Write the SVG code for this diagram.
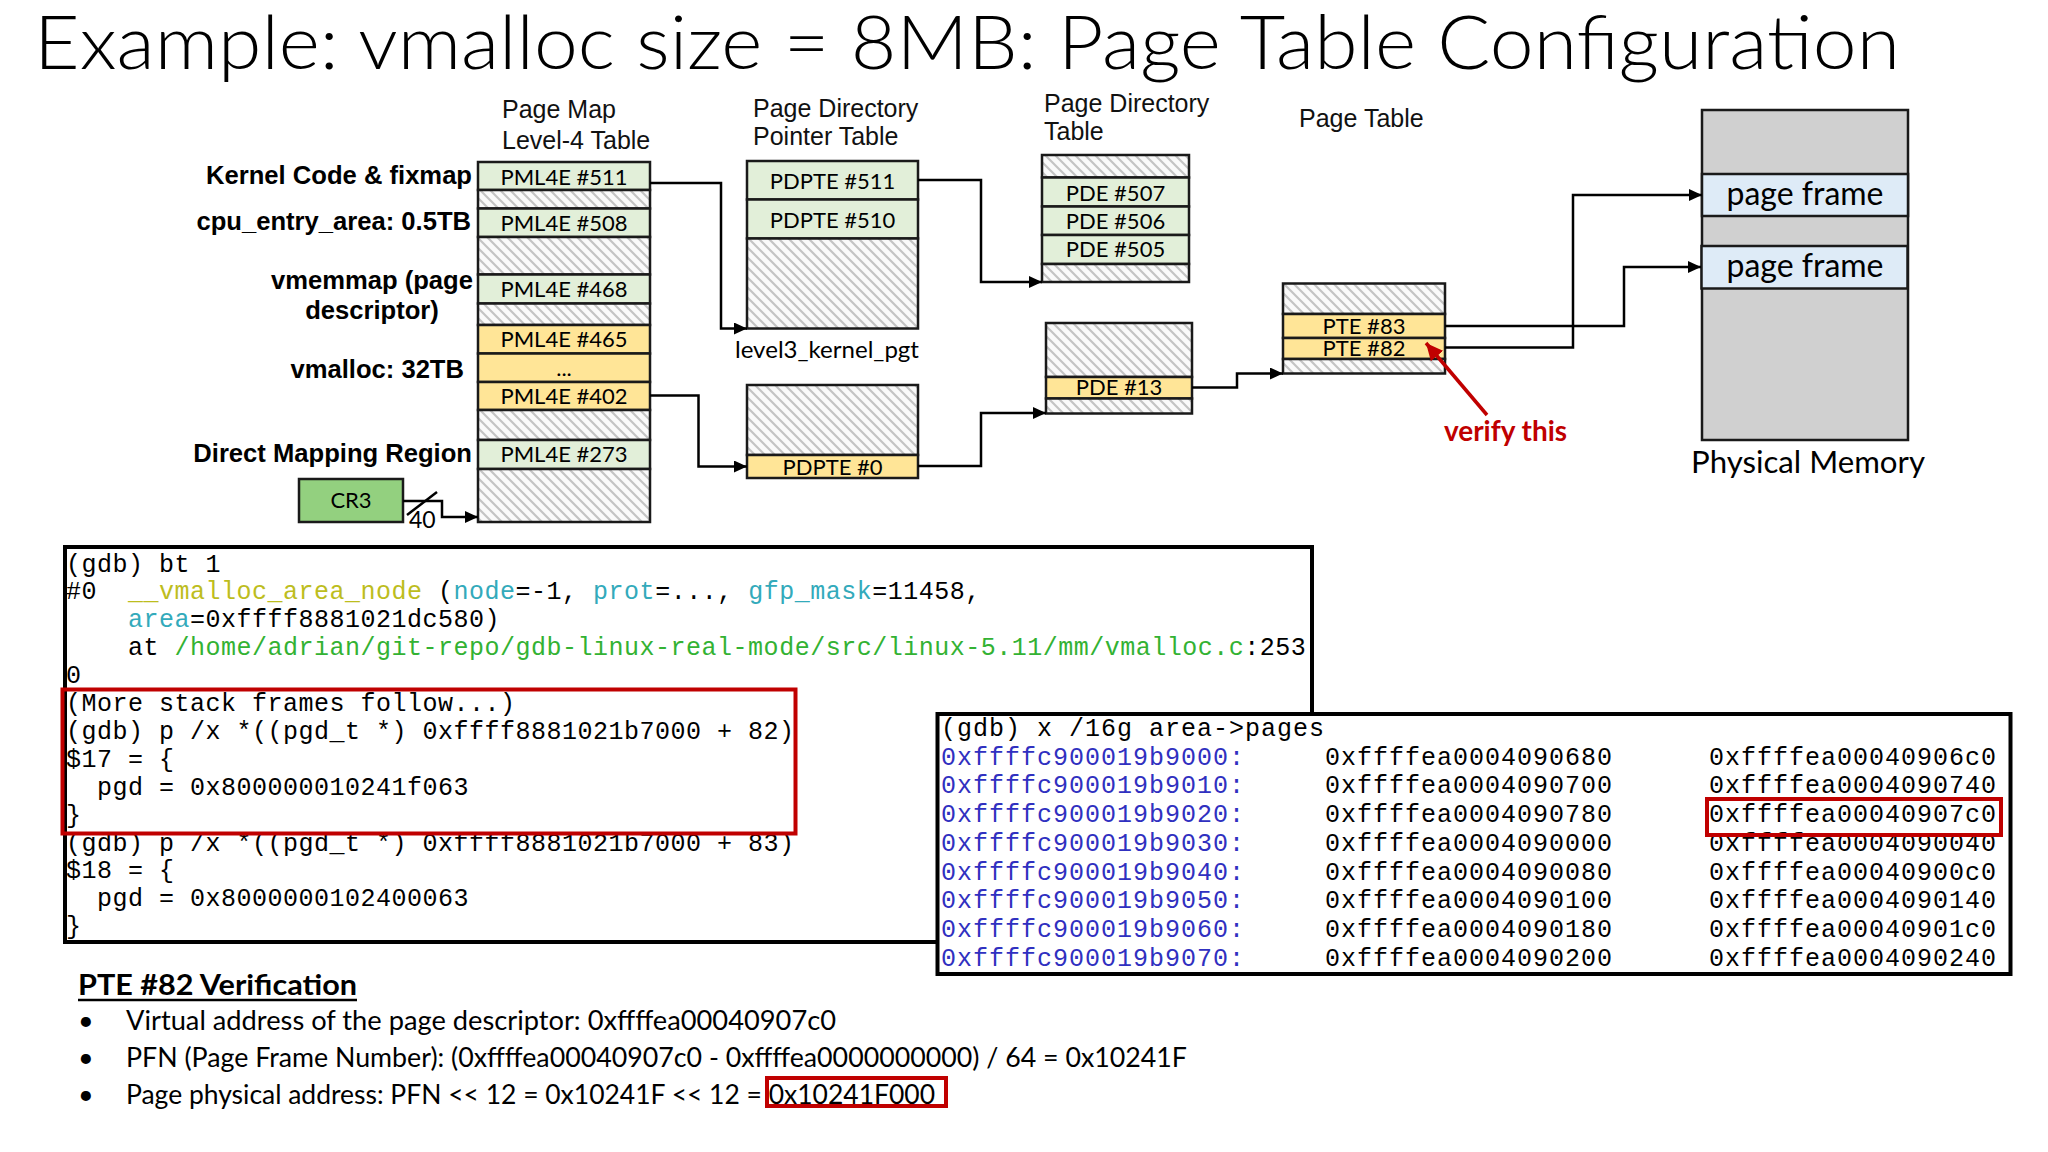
<svg xmlns="http://www.w3.org/2000/svg" width="2048" height="1152" viewBox="0 0 2048 1152">
<style>
.hdr{font-family:"Liberation Sans",Arial,sans-serif;font-size:25px;fill:#111}
.lbl{font-family:"Liberation Sans",Arial,sans-serif;font-weight:bold;font-size:25.6px;fill:#000}
.ent{font-family:Lato,"Open Sans",sans-serif;font-size:22px;text-anchor:middle;fill:#000}
.tb{stroke:#1a1a1a;stroke-width:2.5}
.g{fill:#e2efd9}
.y{fill:#ffe597}
.h{fill:url(#hatch)}
.conn{fill:none;stroke:#000;stroke-width:2.5;marker-end:url(#arr)}
.code{font-family:"Liberation Mono","Courier New",monospace;font-size:25px;fill:#000;white-space:pre}
.c1{letter-spacing:0.5px}
.c2{letter-spacing:1px}
.cy{fill:#bdbd1e}
.cc{fill:#33aabb}
.cg{fill:#33b233}
.cb{fill:#3030c0}
.body{font-family:Lato,"Open Sans",sans-serif;font-size:27px;fill:#000}
.redbox{fill:none;stroke:#c00000;stroke-width:4}
</style>
<defs>
<pattern id="hatch" patternUnits="userSpaceOnUse" width="10" height="10">
<rect width="10" height="10" fill="#fafafa"/>
<path d="M-2,-2 L12,12 M-2,8 L2,12 M8,-2 L12,2" stroke="#c4c4c4" stroke-width="2.2"/>
</pattern>
<marker id="arr" markerUnits="userSpaceOnUse" markerWidth="14" markerHeight="12" refX="13" refY="6" orient="auto">
<path d="M0,0 L13,6 L0,12 z" fill="#000"/>
</marker>
<marker id="rarr" markerUnits="userSpaceOnUse" markerWidth="18" markerHeight="16" refX="17" refY="8" orient="auto">
<path d="M0,0 L17,8 L0,16 z" fill="#c00000"/>
</marker>
</defs>
<rect width="2048" height="1152" fill="#fff"/>

<text x="34" y="69" font-family="Lato,'Open Sans',sans-serif" font-weight="300" font-size="74" fill="#000" textLength="1866" lengthAdjust="spacingAndGlyphs">Example: vmalloc size = 8MB: Page Table Configuration</text>

<!-- region labels -->
<g id="labels">
<text class="lbl" x="472" y="184" text-anchor="end">Kernel Code &amp; fixmap</text>
<text class="lbl" x="471" y="230" text-anchor="end">cpu_entry_area: 0.5TB</text>
<text class="lbl" x="372" y="289" text-anchor="middle">vmemmap (page</text>
<text class="lbl" x="372" y="319" text-anchor="middle">descriptor)</text>
<text class="lbl" x="464" y="378" text-anchor="end">vmalloc: 32TB</text>
<text class="lbl" x="472" y="462" text-anchor="end">Direct Mapping Region</text>
</g>

<!-- headers -->
<g id="headers">
<text class="hdr" x="502" y="118">Page Map</text>
<text class="hdr" x="502" y="149">Level-4 Table</text>
<text class="hdr" x="753" y="117">Page Directory</text>
<text class="hdr" x="753" y="145">Pointer Table</text>
<text class="hdr" x="1044" y="112">Page Directory</text>
<text class="hdr" x="1044" y="140">Table</text>
<text class="hdr" x="1299" y="127">Page Table</text>
</g>

<g id="cr3">
<rect x="299" y="479" width="104" height="43" fill="#93d07f" class="tb"/>
<text class="ent" x="351" y="508" font-size="23">CR3</text>
</g>

<g id="pml4">
<rect class="tb g" x="478" y="162" width="172" height="28"/>
<rect class="tb h" x="478" y="190" width="172" height="18.5"/>
<rect class="tb g" x="478" y="208.5" width="172" height="28.5"/>
<rect class="tb h" x="478" y="237" width="172" height="37.5"/>
<rect class="tb g" x="478" y="274.5" width="172" height="29"/>
<rect class="tb h" x="478" y="303.5" width="172" height="21.5"/>
<rect class="tb y" x="478" y="325" width="172" height="28.5"/>
<rect class="tb y" x="478" y="353.5" width="172" height="28.5"/>
<rect class="tb y" x="478" y="382" width="172" height="28"/>
<rect class="tb h" x="478" y="410" width="172" height="30"/>
<rect class="tb g" x="478" y="440" width="172" height="29"/>
<rect class="tb h" x="478" y="469" width="172" height="53"/>
<text class="ent" x="564" y="185">PML4E #511</text>
<text class="ent" x="564" y="231">PML4E #508</text>
<text class="ent" x="564" y="297">PML4E #468</text>
<text class="ent" x="564" y="347">PML4E #465</text>
<text class="ent" x="564" y="376">...</text>
<text class="ent" x="564" y="404">PML4E #402</text>
<text class="ent" x="564" y="462">PML4E #273</text>
</g>

<g id="pdpt-kernel">
<rect class="tb g" x="747" y="161" width="171" height="38.5"/>
<rect class="tb g" x="747" y="199.5" width="171" height="39"/>
<rect class="tb h" x="747" y="238.5" width="171" height="90"/>
<text class="ent" x="832.5" y="189">PDPTE #511</text>
<text class="ent" x="832.5" y="227.5">PDPTE #510</text>
<text x="735" y="358" font-family="Lato,'Open Sans',sans-serif" font-size="24" fill="#000" textLength="184" lengthAdjust="spacingAndGlyphs">level3_kernel_pgt</text>
</g>

<g id="pdpt-vmalloc">
<rect class="tb h" x="747" y="385" width="171" height="70"/>
<rect class="tb y" x="747" y="455" width="171" height="23"/>
<text class="ent" x="832.5" y="475">PDPTE #0</text>
</g>

<g id="pd-kernel">
<rect class="tb h" x="1042" y="155" width="147" height="22.5"/>
<rect class="tb g" x="1042" y="177.5" width="147" height="29"/>
<rect class="tb g" x="1042" y="206.5" width="147" height="28.5"/>
<rect class="tb g" x="1042" y="235" width="147" height="29"/>
<rect class="tb h" x="1042" y="264" width="147" height="18"/>
<text class="ent" x="1115.5" y="201">PDE #507</text>
<text class="ent" x="1115.5" y="229">PDE #506</text>
<text class="ent" x="1115.5" y="257">PDE #505</text>
</g>

<g id="pd-vmalloc">
<rect class="tb h" x="1046" y="323" width="146" height="54"/>
<rect class="tb y" x="1046" y="377" width="146" height="21.5"/>
<rect class="tb h" x="1046" y="398.5" width="146" height="15"/>
<text class="ent" x="1119" y="395">PDE #13</text>
</g>

<g id="pt">
<rect class="tb h" x="1283" y="283.5" width="162" height="30.5"/>
<rect class="tb y" x="1283" y="314" width="162" height="24"/>
<rect class="tb y" x="1283" y="338" width="162" height="21"/>
<rect class="tb h" x="1283" y="359" width="162" height="14.5"/>
<text class="ent" x="1364" y="334" font-size="20.5">PTE #83</text>
<text class="ent" x="1364" y="356" font-size="20.5">PTE #82</text>
</g>

<g id="phys">
<rect class="tb" x="1702" y="110" width="206" height="330" fill="#d0d0d0"/>
<rect class="tb" x="1702" y="174" width="206" height="42" fill="#deebf7"/>
<rect class="tb" x="1701.5" y="246" width="206" height="42.5" fill="#deebf7"/>
<text x="1805" y="205" font-family="Lato,'Open Sans',sans-serif" font-size="32" text-anchor="middle" fill="#000">page frame</text>
<text x="1805" y="277" font-family="Lato,'Open Sans',sans-serif" font-size="32" text-anchor="middle" fill="#000">page frame</text>
<text x="1691" y="473" font-family="Lato,'Open Sans',sans-serif" font-size="31" fill="#000" textLength="234" lengthAdjust="spacingAndGlyphs">Physical Memory</text>
</g>

<g id="connectors">
<path class="conn" d="M403,501 H442 V517 H478"/>
<line x1="407" y1="515" x2="437" y2="492" stroke="#000" stroke-width="2.5"/>
<text x="409" y="528" font-family="Lato,'Open Sans',sans-serif" font-size="23" fill="#000">40</text>
<path class="conn" d="M650,183 H721 V328.5 H747"/>
<path class="conn" d="M650,395.5 H698.5 V466.5 H747"/>
<path class="conn" d="M918,180 H981 V282 H1042"/>
<path class="conn" d="M918,466 H981 V413 H1046"/>
<path class="conn" d="M1192,387.5 H1237 V373.5 H1283"/>
<path class="conn" d="M1445,326 H1624 V267 H1701"/>
<path class="conn" d="M1445,347.5 H1573 V195 H1702"/>
<line x1="1487" y1="415" x2="1426" y2="343" stroke="#c00000" stroke-width="3.5" marker-end="url(#rarr)"/>
<text x="1444" y="441" font-family="Lato,'Open Sans',sans-serif" font-weight="bold" font-size="29" fill="#c00000" textLength="123" lengthAdjust="spacingAndGlyphs">verify this</text>
</g>

<g id="gdb-bt">
<rect x="65" y="547" width="1247" height="395" fill="#fff" stroke="#000" stroke-width="4"/>
<text class="code c1" x="66" y="571.5" xml:space="preserve">(gdb) bt 1</text>
<text class="code c1" x="66" y="599.4" xml:space="preserve">#0  <tspan class="cy">__vmalloc_area_node</tspan> (<tspan class="cc">node</tspan>=-1, <tspan class="cc">prot</tspan>=..., <tspan class="cc">gfp_mask</tspan>=11458,</text>
<text class="code c1" x="66" y="627.3" xml:space="preserve">    <tspan class="cc">area</tspan>=0xffff8881021dc580)</text>
<text class="code c1" x="66" y="655.2" xml:space="preserve">    at <tspan class="cg">/home/adrian/git-repo/gdb-linux-real-mode/src/linux-5.11/mm/vmalloc.c</tspan>:253</text>
<text class="code c1" x="66" y="683.1" xml:space="preserve">0</text>
<text class="code c1" x="66" y="711" xml:space="preserve">(More stack frames follow...)</text>
<text class="code c1" x="66" y="738.9" xml:space="preserve">(gdb) p /x *((pgd_t *) 0xffff8881021b7000 + 82)</text>
<text class="code c1" x="66" y="766.8" xml:space="preserve">$17 = {</text>
<text class="code c1" x="66" y="794.7" xml:space="preserve">  pgd = 0x800000010241f063</text>
<text class="code c1" x="66" y="822.6" xml:space="preserve">}</text>
<text class="code c1" x="66" y="850.5" xml:space="preserve">(gdb) p /x *((pgd_t *) 0xffff8881021b7000 + 83)</text>
<text class="code c1" x="66" y="878.4" xml:space="preserve">$18 = {</text>
<text class="code c1" x="66" y="906.3" xml:space="preserve">  pgd = 0x8000000102400063</text>
<text class="code c1" x="66" y="934.2" xml:space="preserve">}</text>
<rect class="redbox" x="62.5" y="689.5" width="733" height="144"/>
</g>

<g id="gdb-pages">
<rect x="937.5" y="714" width="1073" height="260" fill="#fff" stroke="#000" stroke-width="4"/>
<text class="code c2" x="941" y="736" xml:space="preserve">(gdb) x /16g area-&gt;pages</text>
<g class="code c2">
<text class="cb" x="941" y="764.7">0xffffc900019b9000:</text>
<text x="1325" y="764.7">0xffffea0004090680</text>
<text x="1709" y="764.7">0xffffea00040906c0</text>
<text class="cb" x="941" y="793.4">0xffffc900019b9010:</text>
<text x="1325" y="793.4">0xffffea0004090700</text>
<text x="1709" y="793.4">0xffffea0004090740</text>
<text class="cb" x="941" y="822.1">0xffffc900019b9020:</text>
<text x="1325" y="822.1">0xffffea0004090780</text>
<text x="1709" y="822.1">0xffffea00040907c0</text>
<text class="cb" x="941" y="850.8">0xffffc900019b9030:</text>
<text x="1325" y="850.8">0xffffea0004090000</text>
<text x="1709" y="850.8">0xffffea0004090040</text>
<text class="cb" x="941" y="879.5">0xffffc900019b9040:</text>
<text x="1325" y="879.5">0xffffea0004090080</text>
<text x="1709" y="879.5">0xffffea00040900c0</text>
<text class="cb" x="941" y="908.2">0xffffc900019b9050:</text>
<text x="1325" y="908.2">0xffffea0004090100</text>
<text x="1709" y="908.2">0xffffea0004090140</text>
<text class="cb" x="941" y="936.9">0xffffc900019b9060:</text>
<text x="1325" y="936.9">0xffffea0004090180</text>
<text x="1709" y="936.9">0xffffea00040901c0</text>
<text class="cb" x="941" y="965.6">0xffffc900019b9070:</text>
<text x="1325" y="965.6">0xffffea0004090200</text>
<text x="1709" y="965.6">0xffffea0004090240</text>
</g>
<rect class="redbox" x="1707" y="799" width="294" height="36"/>
</g>

<g id="verification">
<text x="78" y="995" font-family="Lato,'Open Sans',sans-serif" font-weight="bold" font-size="29" fill="#000" textLength="279" lengthAdjust="spacingAndGlyphs">PTE #82 Verification</text>
<line x1="78" y1="1000" x2="357" y2="1000" stroke="#000" stroke-width="2.5"/>
<text class="body" x="78" y="1030">•</text>
<text class="body" x="126" y="1030" textLength="710" lengthAdjust="spacingAndGlyphs">Virtual address of the page descriptor: 0xffffea00040907c0</text>
<text class="body" x="78" y="1067">•</text>
<text class="body" x="126" y="1067" textLength="1061" lengthAdjust="spacingAndGlyphs">PFN (Page Frame Number): (0xffffea00040907c0 - 0xffffea0000000000) / 64 = 0x10241F</text>
<text class="body" x="78" y="1103.5">•</text>
<text class="body" x="126" y="1103.5" textLength="809" lengthAdjust="spacingAndGlyphs">Page physical address: PFN &lt;&lt; 12 = 0x10241F &lt;&lt; 12 = 0x10241F000</text>
<rect class="redbox" x="767" y="1078" width="179" height="28"/>
</g>
</svg>
